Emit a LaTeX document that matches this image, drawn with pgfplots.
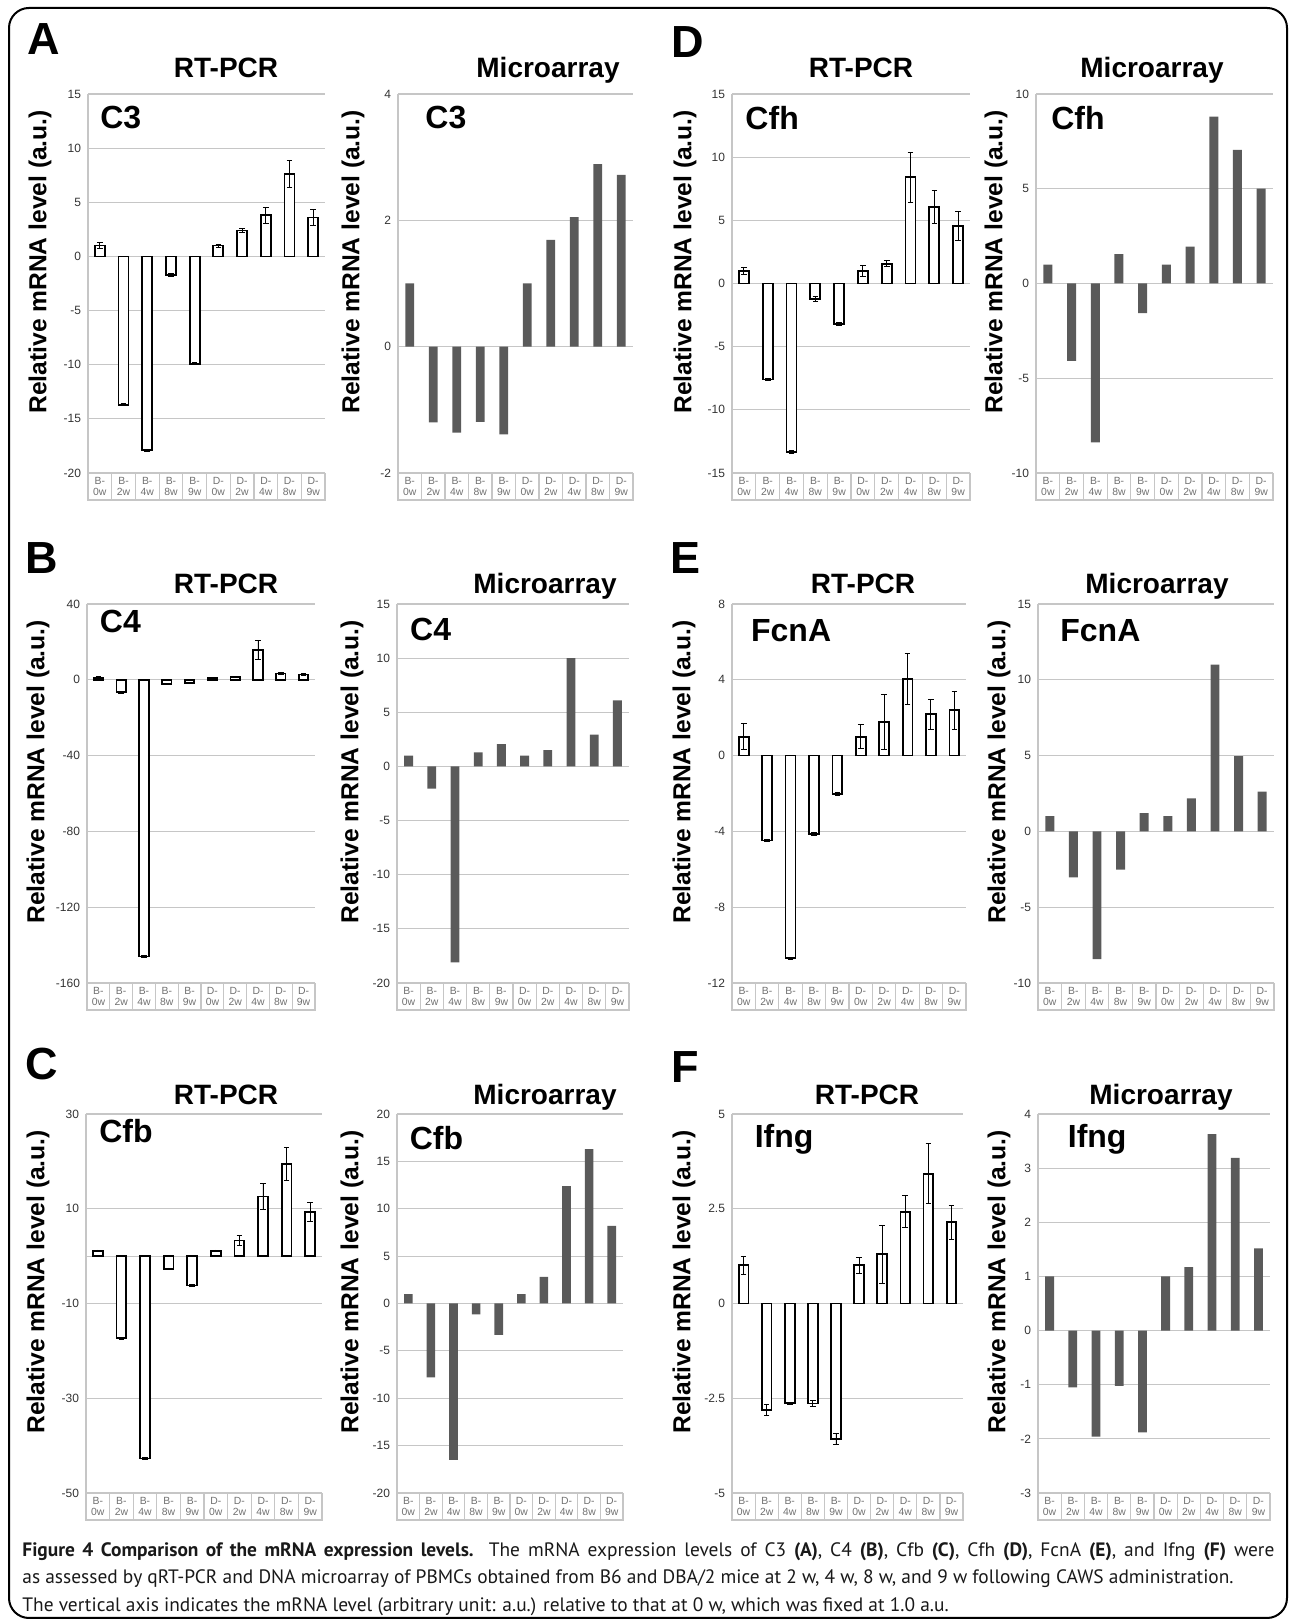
\documentclass[border=0pt]{standalone}
\usepackage{fontspec}
\setmainfont{Liberation Sans}
\newfontfamily\capfont{PT Sans}
\usepackage{pgfplots}
\pgfplotsset{compat=1.18}

\definecolor{gridc}{HTML}{C6C6C6}
\definecolor{barc}{HTML}{5A5A5A}
\definecolor{tickc}{HTML}{333333}
\definecolor{catc}{HTML}{707070}

\pgfplotsset{
  base/.style={
    anchor=south west, scale only axis, height=189.5pt,
    xmin=-0.5, xmax=9.5, clip=false,
    axis lines*=left, axis line style={gridc, line width=0.6pt},
    ymajorgrids, grid style={gridc, line width=0.6pt},
    major tick length=0pt,
    xtick={0,...,9},
    xticklabels={{B-\\0w},{B-\\2w},{B-\\4w},{B-\\8w},{B-\\9w},{D-\\0w},{D-\\2w},{D-\\4w},{D-\\8w},{D-\\9w}},
    xticklabel style={align=center, font=\fontsize{5.2}{5.8}\selectfont, text=catc, anchor=center, yshift=-6.75pt},
    yticklabel style={font=\fontsize{6}{7}\selectfont, text=tickc},
    /pgf/number format/assume math mode=true,
    ylabel={Relative mRNA level (a.u.)},
    ylabel style={font=\fontsize{12.3}{14}\selectfont\bfseries, anchor=center},
  },
  ylx/.style={ylabel style={at={([xshift=#1]axis description cs:0,0.557)}}},
  rtbar/.style={ybar, bar width=0.42, fill=white, draw=black, line width=0.9pt,
    error bars/.cd, y dir=both, y explicit, error mark=|,
    error bar style={line width=0.45pt, black},
    error mark options={line width=0.45pt, black, mark size=1.4pt}},
  mabar/.style={ybar, bar width=0.38, fill=barc, draw=none},
}
\tikzset{
  gene/.style={anchor=west, font=\fontsize{16}{18}\selectfont\bfseries, inner sep=0pt},
  ttl/.style={anchor=base, font=\fontsize{14}{16}\selectfont\bfseries},
  letter/.style={anchor=center, font=\fontsize{22.5}{24}\selectfont\bfseries},
}

% category label boxes under each axis
\newcommand\catbox{%
  \draw[gridc, line width=0.6pt] (rel axis cs:0,0) -- ([yshift=-13.5pt]rel axis cs:0,0)
     -- ([yshift=-13.5pt]rel axis cs:1,0) -- (rel axis cs:1,0);
  \pgfplotsinvokeforeach{0.1,0.2,0.3,0.4,0.5,0.6,0.7,0.8,0.9}{%
    \draw[gridc, line width=0.6pt] (rel axis cs:##1,0) -- ([yshift=-13.5pt]rel axis cs:##1,0);}%
}

\begin{document}
\begin{tikzpicture}
\useasboundingbox (0,0) rectangle (645pt,810.5pt);
\draw[line width=1pt, rounded corners=10pt] (4.5pt,1.5pt) rectangle (643.5pt,806.5pt);

% panel letters and titles
\node[letter] at (22pt,791pt) {A};
\node[letter] at (21pt,531.5pt) {B};
\node[letter] at (21pt,278.5pt) {C};
\node[letter] at (344pt,789.5pt) {D};
\node[letter] at (342.5pt,531.5pt) {E};
\node[letter] at (342.5pt,277pt) {F};

\node[ttl] at (113pt,771.75pt) {RT-PCR};
\node[ttl] at (274pt,771.75pt) {Microarray};
\node[ttl] at (430.5pt,771.75pt) {RT-PCR};
\node[ttl] at (576pt,771.75pt) {Microarray};
\node[ttl] at (113pt,513.75pt) {RT-PCR};
\node[ttl] at (272.5pt,513.75pt) {Microarray};
\node[ttl] at (431.5pt,513.75pt) {RT-PCR};
\node[ttl] at (578.5pt,513.75pt) {Microarray};
\node[ttl] at (113pt,258.25pt) {RT-PCR};
\node[ttl] at (272.5pt,258.25pt) {Microarray};
\node[ttl] at (433.5pt,258.25pt) {RT-PCR};
\node[ttl] at (580.5pt,258.25pt) {Microarray};

% ---- A: C3
\begin{axis}[base, ylx=-24pt, at={(44pt,574pt)}, width=118.5pt, ymin=-20, ymax=15, ytick={-20,-15,...,15}]
\addplot[rtbar] coordinates {(0,1.0)+-(0,0.3) (1,-13.7)+-(0,0.1) (2,-17.9)+-(0,0.1) (3,-1.7)+-(0,0.15) (4,-9.9)+-(0,0.1)
  (5,1.0)+-(0,0.15) (6,2.4)+-(0,0.2) (7,3.8)+-(0,0.75) (8,7.6)+-(0,1.25) (9,3.6)+-(0,0.7)};
\catbox
\node[gene] at (rel axis cs:0.05,0.937) {C3};
\end{axis}
\begin{axis}[base, ylx=-22.5pt, at={(199pt,574pt)}, width=117.5pt, ymin=-2, ymax=4, ytick={-2,0,2,4}]
\addplot[mabar] coordinates {(0,1.0) (1,-1.2) (2,-1.36) (3,-1.19) (4,-1.39) (5,1.0) (6,1.69) (7,2.05) (8,2.89) (9,2.72)};
\catbox
\node[gene] at (rel axis cs:0.115,0.937) {C3};
\end{axis}

% ---- D: Cfh
\begin{axis}[base, ylx=-23.5pt, at={(366pt,574pt)}, width=119pt, ymin=-15, ymax=15, ytick={-15,-10,...,15}]
\addplot[rtbar] coordinates {(0,1.0)+-(0,0.3) (1,-7.6)+-(0,0.1) (2,-13.35)+-(0,0.1) (3,-1.24)+-(0,0.2) (4,-3.2)+-(0,0.1)
  (5,1.0)+-(0,0.45) (6,1.56)+-(0,0.25) (7,8.4)+-(0,2.0) (8,6.07)+-(0,1.3) (9,4.56)+-(0,1.15)};
\catbox
\node[gene] at (rel axis cs:0.055,0.937) {Cfh};
\end{axis}
\begin{axis}[base, ylx=-20pt, at={(518pt,574pt)}, width=118.5pt, ymin=-10, ymax=10, ytick={-10,-5,...,10}]
\addplot[mabar] coordinates {(0,1.0) (1,-4.08) (2,-8.38) (3,1.55) (4,-1.56) (5,1.0) (6,1.95) (7,8.8) (8,7.05) (9,5.0)};
\catbox
\node[gene] at (rel axis cs:0.063,0.937) {Cfh};
\end{axis}

% ---- B: C4
\begin{axis}[base, ylx=-24.5pt, at={(43.5pt,319pt)}, width=114pt, ymin=-160, ymax=40, ytick={-160,-120,...,40}]
\addplot[rtbar] coordinates {(0,1.0)+-(0,0.5) (1,-6.5)+-(0,0.5) (2,-146)+-(0,0.5) (3,-2.3)+-(0,0.3) (4,-1.8)+-(0,0.3)
  (5,1.0)+-(0,0.3) (6,1.4)+-(0,0.3) (7,15.8)+-(0,5.0) (8,3.3)+-(0,0.5) (9,2.8)+-(0,0.5)};
\catbox
\node[gene] at (rel axis cs:0.055,0.953) {C4};
\end{axis}
\begin{axis}[base, ylx=-22.5pt, at={(198.5pt,319pt)}, width=116pt, ymin=-20, ymax=15, ytick={-20,-15,...,15}]
\addplot[mabar] coordinates {(0,1.0) (1,-2.05) (2,-18.1) (3,1.3) (4,2.05) (5,1.0) (6,1.5) (7,10.0) (8,2.93) (9,6.1)};
\catbox
\node[gene] at (rel axis cs:0.055,0.934) {C4};
\end{axis}

% ---- E: FcnA
\begin{axis}[base, ylx=-24pt, at={(366pt,319pt)}, width=117pt, ymin=-12, ymax=8, ytick={-12,-8,...,8}]
\addplot[rtbar] coordinates {(0,1.0)+-(0,0.67) (1,-4.48)+-(0,0.05) (2,-10.7)+-(0,0.05) (3,-4.13)+-(0,0.1) (4,-2.02)+-(0,0.1)
  (5,1.0)+-(0,0.62) (6,1.77)+-(0,1.43) (7,4.04)+-(0,1.35) (8,2.18)+-(0,0.8) (9,2.39)+-(0,1.0)};
\catbox
\node[gene] at (rel axis cs:0.08,0.93) {FcnA};
\end{axis}
\begin{axis}[base, ylx=-19.5pt, at={(519pt,319pt)}, width=118pt, ymin=-10, ymax=15, ytick={-10,-5,...,15}]
\addplot[mabar] coordinates {(0,1.0) (1,-3.03) (2,-8.42) (3,-2.53) (4,1.21) (5,1.0) (6,2.18) (7,11.0) (8,4.97) (9,2.62)};
\catbox
\node[gene] at (rel axis cs:0.093,0.93) {FcnA};
\end{axis}

% ---- C: Cfb
\begin{axis}[base, ylx=-24pt, at={(43pt,64pt)}, width=118pt, ymin=-50, ymax=30, ytick={-50,-30,-10,0,10,30},
  yticklabels={-50,-30,-10,,10,30}]
\addplot[rtbar] coordinates {(0,1.1)+-(0,0.2) (1,-17.3)+-(0,0.2) (2,-42.7)+-(0,0.2) (3,-2.7)+-(0,0.2) (4,-6.2)+-(0,0.2)
  (5,1.1)+-(0,0.2) (6,3.3)+-(0,1.0) (7,12.6)+-(0,2.7) (8,19.4)+-(0,3.5) (9,9.3)+-(0,2.0)};
\catbox
\node[gene] at (rel axis cs:0.055,0.955) {Cfb};
\end{axis}
\begin{axis}[base, ylx=-22.5pt, at={(198.5pt,64pt)}, width=113pt, ymin=-20, ymax=20, ytick={-20,-15,...,20}]
\addplot[mabar] coordinates {(0,1.0) (1,-7.8) (2,-16.5) (3,-1.15) (4,-3.3) (5,1.0) (6,2.8) (7,12.4) (8,16.3) (9,8.2)};
\catbox
\node[gene] at (rel axis cs:0.055,0.937) {Cfb};
\end{axis}

% ---- F: Ifng
\begin{axis}[base, ylx=-24pt, at={(366pt,64pt)}, width=115.5pt, ymin=-5, ymax=5, ytick={-5,-2.5,0,2.5,5}]
\addplot[rtbar] coordinates {(0,1.01)+-(0,0.24) (1,-2.81)+-(0,0.14) (2,-2.63)+-(0,0.03) (3,-2.64)+-(0,0.08) (4,-3.57)+-(0,0.15)
  (5,1.01)+-(0,0.21) (6,1.3)+-(0,0.77) (7,2.42)+-(0,0.42) (8,3.42)+-(0,0.79) (9,2.14)+-(0,0.44)};
\catbox
\node[gene] at (rel axis cs:0.097,0.934) {Ifng};
\end{axis}
\begin{axis}[base, ylx=-19.5pt, at={(519pt,64pt)}, width=116pt, ymin=-3, ymax=4, ytick={-3,-2,...,4}]
\addplot[mabar] coordinates {(0,1.0) (1,-1.05) (2,-1.96) (3,-1.02) (4,-1.88) (5,1.0) (6,1.17) (7,3.63) (8,3.19) (9,1.52)};
\catbox
\node[gene] at (rel axis cs:0.127,0.934) {Ifng};
\end{axis}

% caption
\begin{scope}[every node/.style={anchor=base west, inner sep=0pt, font=\capfont\fontsize{9.7}{12}\selectfont, text=black!90}]
\node at (11pt,32pt) {\makebox[626pt][s]{\textbf{Figure 4 Comparison of the mRNA expression levels.} The mRNA expression levels of C3 \textbf{(A)}, C4 \textbf{(B)}, Cfb \textbf{(C)}, Cfh \textbf{(D)}, FcnA \textbf{(E)}, and Ifng \textbf{(F)} were}};
\node at (11pt,18.5pt) {as assessed by qRT-PCR and DNA microarray of PBMCs obtained from B6 and DBA/2 mice at 2 w, 4 w, 8 w, and 9 w following CAWS administration.};
\node at (11pt,5pt) {The vertical axis indicates the mRNA level (arbitrary unit: a.u.) relative to that at 0 w, which was fixed at 1.0 a.u.};
\end{scope}
\end{tikzpicture}
\end{document}
